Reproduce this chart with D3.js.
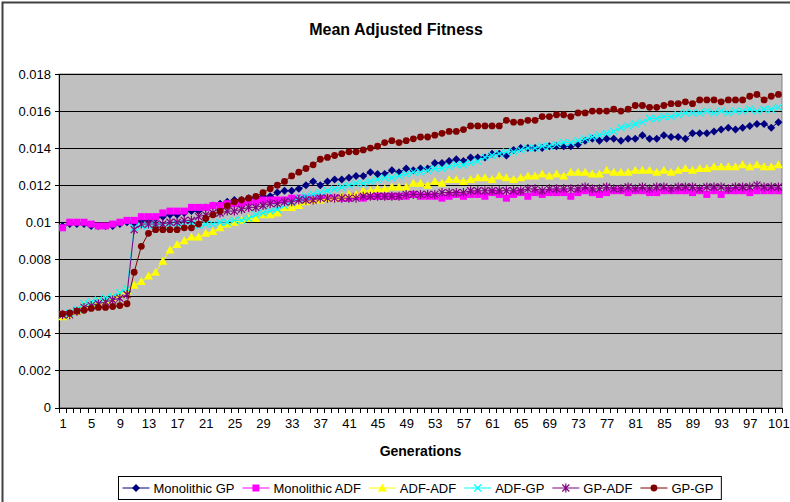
<!DOCTYPE html>
<html>
<head>
<meta charset="utf-8">
<script src="https://cdn.jsdelivr.net/npm/d3@7"></script>
<style>
  body { margin: 0; background: #fff; }
  svg text { font-family: Arial, "Liberation Sans", sans-serif; fill: #000; }
</style>
</head>
<body>
<svg width="790" height="502"></svg>
<script>
// generations 1..101
const generations = d3.range(1, 102);
const xTickLabels = [1,5,9,13,17,21,25,29,33,37,41,45,49,53,57,61,65,69,73,77,81,85,89,93,97,101];
const yTicks = [0,0.002,0.004,0.006,0.008,0.01,0.012,0.014,0.016,0.018];
const seriesNames = ["Monolithic GP","Monolithic ADF","ADF-ADF","ADF-GP","GP-ADF","GP-GP"];

const monolithicGP = [
 0.0098,0.0099,0.0099,0.0099,0.0098,0.0098,0.0098,0.0098,0.0099,0.0100,
 0.0099,0.0101,0.0101,0.0102,0.0103,0.0104,0.0104,0.0105,0.0106,0.0106,
 0.0108,0.0109,0.0110,0.0111,0.0112,0.0112,0.0113,0.0113,0.0114,0.0114,
 0.0116,0.0117,0.0117,0.0118,0.0120,0.0122,0.0120,0.0122,0.0123,0.0123,
 0.0124,0.0125,0.0125,0.0127,0.0126,0.0126,0.0128,0.0127,0.0129,0.0128,
 0.0129,0.0129,0.0132,0.0132,0.0133,0.0134,0.0133,0.0135,0.0135,0.0135,
 0.0137,0.0137,0.0136,0.0139,0.0140,0.0140,0.0140,0.0140,0.0141,0.0141,
 0.0141,0.0141,0.0142,0.0144,0.0145,0.0144,0.0145,0.0145,0.0144,0.0145,
 0.0145,0.0147,0.0145,0.0145,0.0147,0.0146,0.0146,0.0145,0.0148,0.0148,
 0.0148,0.0149,0.0150,0.0151,0.0150,0.0151,0.0152,0.0153,0.0153,0.0151,0.0154];
const monolithicADF = [
 0.0097,0.0100,0.0100,0.0100,0.0099,0.0098,0.0098,0.0099,0.0100,0.0101,
 0.0101,0.0103,0.0103,0.0103,0.0105,0.0106,0.0106,0.0106,0.0108,0.0108,
 0.0108,0.0109,0.0109,0.0110,0.0110,0.0110,0.0111,0.0111,0.0112,0.0112,
 0.0112,0.0112,0.0113,0.0113,0.0113,0.0113,0.0113,0.0113,0.0113,0.0113,
 0.0113,0.0114,0.0113,0.0114,0.0114,0.0114,0.0114,0.0114,0.0114,0.0115,
 0.0114,0.0114,0.0114,0.0113,0.0114,0.0115,0.0114,0.0115,0.0115,0.0114,
 0.0116,0.0115,0.0113,0.0115,0.0116,0.0114,0.0116,0.0115,0.0116,0.0116,
 0.0116,0.0114,0.0116,0.0117,0.0116,0.0115,0.0116,0.0117,0.0117,0.0116,
 0.0117,0.0117,0.0116,0.0116,0.0117,0.0117,0.0117,0.0117,0.0116,0.0117,
 0.0115,0.0117,0.0115,0.0117,0.0117,0.0117,0.0116,0.0117,0.0117,0.0117,0.0117];
const adfADF = [
 0.0049,0.0050,0.0052,0.0055,0.0056,0.0057,0.0058,0.0059,0.0061,0.0063,
 0.0066,0.0068,0.0071,0.0073,0.0079,0.0085,0.0088,0.0090,0.0092,0.0092,
 0.0094,0.0095,0.0097,0.0099,0.0100,0.0101,0.0102,0.0102,0.0104,0.0104,
 0.0105,0.0108,0.0108,0.0109,0.0111,0.0112,0.0112,0.0113,0.0113,0.0114,
 0.0115,0.0115,0.0117,0.0117,0.0118,0.0118,0.0119,0.0119,0.0119,0.0121,
 0.0121,0.0120,0.0122,0.0121,0.0123,0.0123,0.0122,0.0123,0.0124,0.0124,
 0.0123,0.0125,0.0124,0.0123,0.0124,0.0125,0.0125,0.0126,0.0125,0.0126,
 0.0125,0.0127,0.0127,0.0127,0.0126,0.0126,0.0128,0.0127,0.0127,0.0127,
 0.0128,0.0128,0.0128,0.0127,0.0128,0.0127,0.0128,0.0129,0.0128,0.0129,
 0.0129,0.0130,0.0130,0.0130,0.0130,0.0131,0.0130,0.0131,0.0130,0.0130,0.0131];
const adfGP = [
 0.0050,0.0051,0.0053,0.0056,0.0057,0.0058,0.0059,0.0060,0.0062,0.0064,
 0.0097,0.0098,0.0098,0.0098,0.0098,0.0098,0.0099,0.0099,0.0099,0.0098,
 0.0099,0.0099,0.0100,0.0100,0.0101,0.0101,0.0102,0.0104,0.0105,0.0106,
 0.0107,0.0109,0.0111,0.0113,0.0114,0.0115,0.0116,0.0117,0.0118,0.0119,
 0.0120,0.0121,0.0121,0.0122,0.0123,0.0124,0.0124,0.0125,0.0126,0.0127,
 0.0127,0.0128,0.0129,0.0129,0.0130,0.0131,0.0131,0.0132,0.0133,0.0135,
 0.0136,0.0137,0.0138,0.0138,0.0139,0.0140,0.0140,0.0141,0.0141,0.0142,
 0.0143,0.0143,0.0144,0.0145,0.0146,0.0147,0.0148,0.0149,0.0151,0.0152,
 0.0153,0.0154,0.0156,0.0156,0.0157,0.0157,0.0158,0.0159,0.0159,0.0159,
 0.0160,0.0159,0.0160,0.0159,0.0160,0.0160,0.0161,0.0160,0.0161,0.0161,0.0162];
const gpADF = [
 0.0050,0.0050,0.0052,0.0054,0.0055,0.0056,0.0057,0.0058,0.0059,0.0061,
 0.0096,0.0099,0.0099,0.0099,0.0099,0.0100,0.0100,0.0101,0.0101,0.0103,
 0.0104,0.0105,0.0105,0.0106,0.0106,0.0107,0.0108,0.0108,0.0109,0.0110,
 0.0110,0.0111,0.0111,0.0112,0.0112,0.0112,0.0113,0.0113,0.0113,0.0113,
 0.0113,0.0113,0.0114,0.0114,0.0114,0.0114,0.0114,0.0114,0.0115,0.0115,
 0.0115,0.0115,0.0115,0.0116,0.0116,0.0116,0.0116,0.0117,0.0117,0.0117,
 0.0117,0.0117,0.0117,0.0117,0.0117,0.0118,0.0118,0.0117,0.0118,0.0118,
 0.0118,0.0118,0.0118,0.0119,0.0118,0.0118,0.0119,0.0118,0.0118,0.0119,
 0.0118,0.0119,0.0118,0.0119,0.0119,0.0118,0.0119,0.0119,0.0119,0.0118,
 0.0119,0.0119,0.0119,0.0118,0.0119,0.0119,0.0119,0.0120,0.0119,0.0119,0.0119];
const gpGP = [
 0.00505,0.0051,0.0052,0.00525,0.00535,0.0054,0.0054,0.00545,0.0055,0.0056,
 0.0073,0.0087,0.0094,0.0096,0.0096,0.0096,0.0096,0.0097,0.0097,0.0099,
 0.0102,0.0104,0.0106,0.0109,0.0111,0.0112,0.0113,0.0114,0.0116,0.0118,
 0.0120,0.0122,0.0125,0.0127,0.0129,0.0131,0.0134,0.0135,0.0136,0.0137,
 0.0138,0.0138,0.0139,0.0140,0.0141,0.0143,0.0144,0.0143,0.0144,0.0145,
 0.0146,0.0146,0.0147,0.0148,0.0149,0.0149,0.0150,0.0152,0.0152,0.0152,
 0.0152,0.0152,0.0155,0.0154,0.0154,0.0155,0.0155,0.0157,0.0157,0.0158,
 0.0158,0.0157,0.0159,0.0159,0.0160,0.0160,0.0160,0.0161,0.0160,0.0161,
 0.0163,0.0163,0.0162,0.0162,0.0163,0.0164,0.0164,0.0165,0.0164,0.0166,
 0.0166,0.0166,0.0165,0.0166,0.0166,0.0166,0.0168,0.0169,0.0166,0.0168,0.0169];

const svg = d3.select("svg");
const plot = {left: 59, right: 782, top: 74, bottom: 407.5};

const colors = ["#000080","#ff00ff","#ffff00","#00ffff","#800080","#800000"];
const markerTypes = ["diamond","square","triangle","x","star","circle"];
const allSeries = [monolithicGP, monolithicADF, adfADF, adfGP, gpADF, gpGP];

const x = d3.scaleLinear().domain([0.5, 101.5]).range([plot.left, plot.right]);
const y = d3.scaleLinear().domain([0, 0.018]).range([plot.bottom, plot.top]);

// chart border
svg.append("rect").attr("x", 2.5).attr("y", 2.5).attr("width", 800).attr("height", 520)
  .attr("fill", "#fff").attr("stroke", "#404040").attr("stroke-width", 2);

svg.append("text").attr("x", 396).attr("y", 35).attr("text-anchor", "middle")
  .style("font-size", "16px").style("font-weight", "bold").text("Mean Adjusted Fitness");

// plot area
svg.append("rect").attr("x", plot.left).attr("y", plot.top)
  .attr("width", plot.right - plot.left).attr("height", plot.bottom - plot.top)
  .attr("fill", "#c0c0c0").attr("stroke", "#808080");

// gridlines
const grid = svg.append("g").attr("transform", "translate(" + plot.left + ",0)")
  .call(d3.axisLeft(y).tickValues(yTicks.slice(1)).tickSize(-(plot.right - plot.left)).tickFormat(""));
grid.select(".domain").remove();
grid.selectAll("line").attr("stroke", "#000").attr("shape-rendering", "crispEdges");

// y axis
const yAxis = svg.append("g").attr("transform", "translate(" + plot.left + ",0)")
  .call(d3.axisLeft(y).tickValues(yTicks).tickSize(4).tickPadding(4)
    .tickFormat(d => String(+d.toFixed(3))));
yAxis.select(".domain").attr("stroke", "#000").attr("shape-rendering", "crispEdges");
yAxis.selectAll("line").attr("stroke", "#000").attr("shape-rendering", "crispEdges");
yAxis.selectAll("text").style("font-size", "13px").attr("font-family", null);

// x axis: tick marks between categories
const xTicks = svg.append("g").attr("transform", "translate(0," + plot.bottom + ")")
  .call(d3.axisBottom(x).tickValues(d3.range(0.5, 102, 1)).tickSize(5).tickFormat(""));
xTicks.select(".domain").attr("stroke", "#000").attr("shape-rendering", "crispEdges");
xTicks.selectAll("line").attr("stroke", "#000").attr("shape-rendering", "crispEdges");

const xLabels = svg.append("g").attr("transform", "translate(0," + plot.bottom + ")")
  .call(d3.axisBottom(x).tickValues(xTickLabels).tickSize(0).tickPadding(11));
xLabels.select(".domain").remove();
xLabels.selectAll("text").style("font-size", "13px").attr("font-family", null);

svg.append("text").attr("x", (plot.left + plot.right) / 2).attr("y", 456)
  .attr("text-anchor", "middle").style("font-size", "14px").style("font-weight", "bold")
  .text("Generations");

function drawMarker(sel, type, color) {
  if (type === "diamond") {
    sel.append("path").attr("d", "M0,-4L4,0L0,4L-4,0Z").attr("fill", color);
  } else if (type === "square") {
    sel.append("rect").attr("x", -3.5).attr("y", -3.5).attr("width", 7).attr("height", 7).attr("fill", color);
  } else if (type === "triangle") {
    sel.append("path").attr("d", "M0,-4.5L4.5,3.5L-4.5,3.5Z").attr("fill", color);
  } else if (type === "x") {
    sel.append("path").attr("d", "M-3.5,-3.5L3.5,3.5M-3.5,3.5L3.5,-3.5").attr("stroke", color).attr("stroke-width", 1.2);
  } else if (type === "star") {
    sel.append("path").attr("d", "M-3.5,-3.5L3.5,3.5M-3.5,3.5L3.5,-3.5M0,-4.5L0,4.5").attr("stroke", color).attr("stroke-width", 1.2);
  } else {
    sel.append("circle").attr("r", 3.4).attr("fill", color);
  }
}

const line = d3.line().x((d, i) => x(generations[i])).y(d => y(d));

allSeries.forEach((vals, s) => {
  const g = svg.append("g");
  g.append("path").datum(vals).attr("d", line)
    .attr("fill", "none").attr("stroke", colors[s]).attr("stroke-width", 1);
  g.selectAll("g.m").data(vals).enter().append("g")
    .attr("transform", (d, i) => "translate(" + x(generations[i]) + "," + y(d) + ")")
    .each(function() { drawMarker(d3.select(this), markerTypes[s], colors[s]); });
});

// legend
const legend = svg.append("g");
const legendBox = legend.append("rect").attr("x", 118.5).attr("y", 476.5)
  .attr("height", 23).attr("fill", "#fff").attr("stroke", "#000");
let lx = 122.5;
seriesNames.forEach((name, s) => {
  const item = legend.append("g").attr("transform", "translate(" + lx + ",488)");
  item.append("line").attr("x1", 0).attr("x2", 27).attr("stroke", colors[s]);
  drawMarker(item.append("g").attr("transform", "translate(13.5,0)"), markerTypes[s], colors[s]);
  const t = item.append("text").attr("x", 31).attr("y", 4.5).style("font-size", "13px").text(name);
  lx += 31 + t.node().getComputedTextLength() + 8;
});
legendBox.attr("width", lx - 118.5);
</script>
</body>
</html>
